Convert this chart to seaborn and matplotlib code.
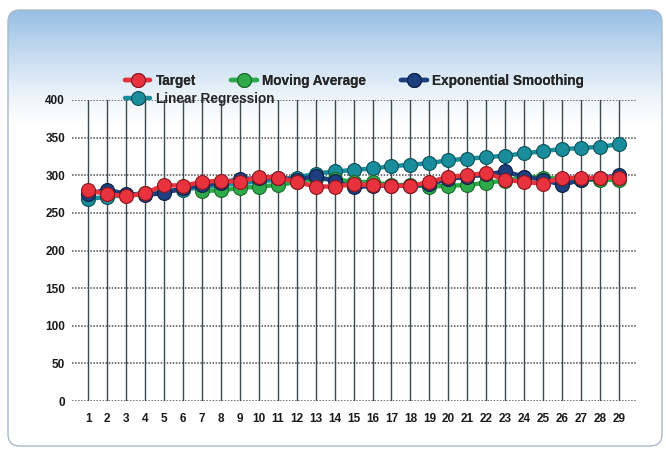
import numpy as np
import pandas as pd
import matplotlib
matplotlib.use("Agg")
import matplotlib.pyplot as plt
import seaborn as sns
from matplotlib.patches import FancyBboxPatch
from matplotlib.lines import Line2D

# =========================
# DATA
# =========================
periods = list(range(1, 30))

target = [280, 275, 272, 276, 287, 286, 291, 293, 291, 298, 297, 291, 285, 285, 288,
          287, 286, 286, 291, 298, 300, 303, 294, 291, 289, 297, 296, 297, 297]

moving_average = [np.nan] * 6 + [279, 280, 283, 285, 287, 291, 295, 295, 291, 291, 287,
                                 287, 285, 286, 287, 290, 293, 298, 297, 295, 294, 294, 294]

exp_smoothing = [275, 281, 275, 274, 276, 283, 287, 290, 295, 296, 297, 294, 299, 292, 284,
                 286, 286, 286, 288, 295, 298, 301, 305, 298, 294, 287, 294, 296, 300]

linear_regression = [269, 271, 274, 276, 279, 281, 284, 287, 289, 292, 294, 297, 302, 305, 307,
                     309, 312, 314, 316, 320, 322, 324, 326, 329, 332, 335, 336, 338, 341]

series_colors = {
    "Target": ("#e8333f", "#8a1820"),
    "Moving Average": ("#2faa4a", "#176a28"),
    "Exponential Smoothing": ("#1d3f7e", "#0c1f45"),
    "Linear Regression": ("#1a8d9c", "#0c5058"),
}

df = pd.DataFrame({
    "Period": periods,
    "Target": target,
    "Moving Average": moving_average,
    "Exponential Smoothing": exp_smoothing,
    "Linear Regression": linear_regression,
})

# =========================
# FIGURE
# =========================
sns.set_style("white")
plt.rcParams['font.family'] = ['Liberation Sans', 'DejaVu Sans']

fig = plt.figure(figsize=(6.66, 4.5), dpi=100)

# background gradient + rounded frame
bg = fig.add_axes([0, 0, 1, 1], zorder=-10)
bg.set_xlim(0, 666)
bg.set_ylim(450, 0)
bg.axis("off")
grad = np.linspace(0, 1, 256)[:, None]
cmap = matplotlib.colors.LinearSegmentedColormap.from_list(
    "bgblue", [(0, "#98bfe4"), (0.1, "#c6dcf1"), (0.2, "#eef5fb"),
               (0.26, "#ffffff"), (1, "#ffffff")])
img = bg.imshow(grad, cmap=cmap, extent=[8, 662, 450, 10], aspect="auto")
frame = FancyBboxPatch((8, 10), 654, 436, boxstyle="round,pad=0,rounding_size=12",
                       facecolor="none", edgecolor="#a9b9c8", linewidth=1.0)
bg.add_patch(frame)
img.set_clip_path(frame)

ax = fig.add_axes([72 / 666, 1 - 401 / 450, (637 - 72) / 666, (401 - 100) / 450])
ax.patch.set_alpha(0)

draw_order = ["Linear Regression", "Moving Average", "Exponential Smoothing", "Target"]
for i, name in enumerate(draw_order):
    face, edge = series_colors[name]
    sns.lineplot(data=df, x="Period", y=name, ax=ax, color=face, linewidth=3.2,
                 marker="o", markersize=10, markerfacecolor=face,
                 markeredgecolor=edge, markeredgewidth=0.8, zorder=5 + i,
                 clip_on=False)

ax.set_xlim(0.15, 29.95)
ax.set_ylim(0, 400)
ax.set_xticks(periods)
ax.set_yticks(range(0, 401, 50))
ax.set_xlabel("")
ax.set_ylabel("")
ax.tick_params(axis="both", length=0, labelsize=8.5, colors="#1a1a1a")
ax.tick_params(axis="x", pad=9)
ax.tick_params(axis="y", pad=5)
for lab in ax.get_xticklabels() + ax.get_yticklabels():
    lab.set_fontweight("bold")
for s in ax.spines.values():
    s.set_visible(False)

# grid
for yv in range(0, 401, 50):
    ax.axhline(yv, color="#4a5055", linestyle=(0, (1, 1)), linewidth=1.1, zorder=1)
for xv in periods:
    ax.plot([xv, xv], [0, 400], color="#3c4a50", linewidth=1.0, zorder=1)

# legend
def handle(name):
    face, edge = series_colors[name]
    return Line2D([], [], color=face, linewidth=3.2, marker="o", markersize=10,
                  markerfacecolor=face, markeredgecolor=edge, markeredgewidth=0.8)

leg_font = {"weight": "bold", "size": 9.8}
top_names = ["Target", "Moving Average", "Exponential Smoothing"]
leg1 = fig.legend([handle(n) for n in top_names], top_names, ncol=3,
                  loc="upper left", bbox_to_anchor=(125 / 666, 1 - 74 / 450),
                  frameon=False, prop=leg_font, handlelength=1.85, handletextpad=0.4,
                  columnspacing=2.6, borderaxespad=0, borderpad=0)
leg2 = fig.legend([handle("Linear Regression")], ["Linear Regression"],
                  loc="upper left", bbox_to_anchor=(125 / 666, 1 - 92 / 450),
                  frameon=False, prop=leg_font, handlelength=1.85, handletextpad=0.4,
                  borderaxespad=0, borderpad=0)
fig.add_artist(leg1)
leg2.set_zorder(20)

plt.savefig("out.png", dpi=100)
